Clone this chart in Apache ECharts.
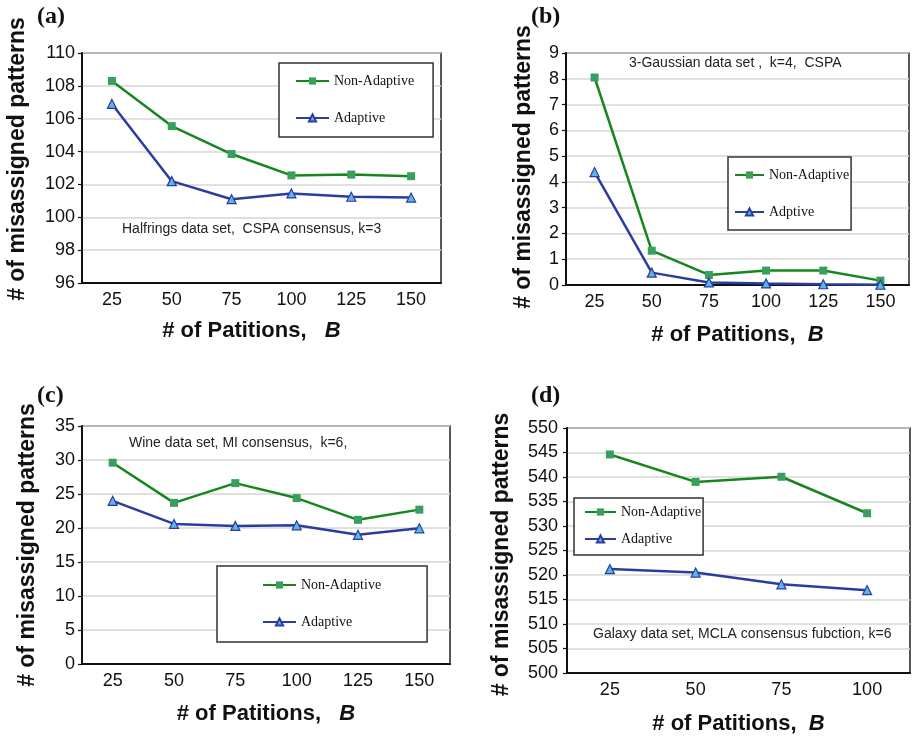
<!DOCTYPE html>
<html>
<head>
<meta charset="utf-8">
<script src="https://cdn.jsdelivr.net/npm/echarts@6/dist/echarts.min.js"></script>
<style>
  html, body { margin: 0; padding: 0; background: #fff; }
  #main { width: 912px; height: 736px; }
</style>
</head>
<body>
<div id="main"></div>
<script>
// categories (# of partitions)
var catsABC = ["25", "50", "75", "100", "125", "150"];
var catsD = ["25", "50", "75", "100"];

// (a) Halfrings
var nonAdaptiveA = [108.3, 105.55, 103.85, 102.55, 102.6, 102.5];
var adaptiveA = [106.9, 102.2, 101.1, 101.45, 101.25, 101.2];
// (b) 3-Gaussian
var nonAdaptiveB = [8.05, 1.33, 0.39, 0.56, 0.56, 0.17];
var adaptiveB = [4.38, 0.48, 0.1, 0.06, 0.03, 0.01];
// (c) Wine
var nonAdaptiveC = [29.6, 23.7, 26.6, 24.4, 21.2, 22.7];
var adaptiveC = [24.0, 20.6, 20.3, 20.4, 19.0, 19.95];
// (d) Galaxy
var nonAdaptiveD = [544.6, 539.0, 540.05, 532.6];
var adaptiveD = [521.2, 520.5, 518.1, 516.9];

var SANS = '"Liberation Sans", Arial, sans-serif';
var SERIF = '"Liberation Serif", "Times New Roman", serif';

var GREEN_LINE = "#17861f";
var GREEN_MARK = "#38a05c";
var BLUE_LINE = "#2b3c9f";
var BLUE_MARK = "#5bb6e6";

function xAxisOf(idx, cats, gap, spaces, pad) {
  return {
    type: "category",
    gridIndex: idx,
    data: cats,
    boundaryGap: true,
    axisLine: { lineStyle: { color: "#111", width: 2 } },
    axisTick: { inside: true, length: 5, lineStyle: { color: "#111", width: 1.2 } },
    axisLabel: { color: "#111", fontSize: 18, fontFamily: SANS, margin: 8 },
    name: "{a|# of Patitions," + spaces + "}{b|B}",
    nameLocation: "middle",
    nameGap: gap,
    nameTextStyle: {
      padding: pad,
      rich: {
        a: { fontSize: 22, fontWeight: "bold", fontFamily: SANS, color: "#111" },
        b: { fontSize: 22, fontWeight: "bold", fontStyle: "italic", fontFamily: SANS, color: "#111" },
      },
    },
  };
}

function yAxisOf(idx, min, max, interval, gap, margin, pad) {
  return {
    type: "value",
    gridIndex: idx,
    min: min,
    max: max,
    interval: interval,
    axisLine: { show: true, lineStyle: { color: "#111", width: 2 } },
    axisTick: { show: true, length: 4, lineStyle: { color: "#111", width: 1.2 } },
    axisLabel: { color: "#111", fontSize: 18, fontFamily: SANS, margin: margin },
    splitLine: { lineStyle: { color: "#d6d6d6", width: 1.5 } },
    name: "# of misassigned patterns",
    nameLocation: "middle",
    nameGap: gap,
    nameTextStyle: {
      fontSize: 23,
      fontWeight: "bold",
      fontFamily: SANS,
      color: "#111",
      padding: pad,
    },
  };
}

function lineOf(name, idx, data, square) {
  return {
    name: name,
    type: "line",
    xAxisIndex: idx,
    yAxisIndex: idx,
    data: data,
    symbol: square ? "rect" : "triangle",
    symbolSize: square ? 8 : 9,
    lineStyle: { color: square ? GREEN_LINE : BLUE_LINE, width: 2.5 },
    itemStyle: square
      ? { color: GREEN_MARK }
      : { color: BLUE_MARK, borderColor: BLUE_LINE, borderWidth: 1.2 },
    z: square ? 3 : 4,
  };
}

function legendOf(left, top, names, itemWidth, itemGap, pad) {
  return {
    data: names,
    orient: "vertical",
    left: left,
    top: top,
    itemWidth: itemWidth,
    itemHeight: 9,
    itemGap: itemGap,
    padding: pad,
    backgroundColor: "#fff",
    borderColor: "#333",
    borderWidth: 1.5,
    selectedMode: false,
    textStyle: { fontFamily: SERIF, fontSize: 14, color: "#111" },
  };
}

function note(x, y, text) {
  return {
    type: "text",
    x: x,
    y: y,
    z: 100,
    style: { text: text, font: "14px " + SANS, fill: "#222", align: "left", verticalAlign: "middle" },
  };
}

function panelLabel(x, y, text) {
  return {
    type: "text",
    x: x,
    y: y,
    style: { text: text, font: "bold 24px " + SERIF, fill: "#111", align: "left", verticalAlign: "middle" },
  };
}

var chart = echarts.init(document.getElementById("main"));
var option = {
  animation: false,
  backgroundColor: "#fff",
  grid: [
    { left: 82, top: 53, width: 359, height: 230, show: true, borderColor: "#222", borderWidth: 1.5 },
    { left: 566, top: 53, width: 343, height: 232, show: true, borderColor: "#222", borderWidth: 1.5 },
    { left: 82, top: 426, width: 368, height: 238, show: true, borderColor: "#222", borderWidth: 1.5 },
    { left: 567, top: 428, width: 343, height: 246, show: true, borderColor: "#222", borderWidth: 1.5 },
  ],
  xAxis: [
    xAxisOf(0, catsABC, 37, "   ", [0, 20, 0, 0]),
    xAxisOf(1, catsABC, 39, "  ", 0),
    xAxisOf(2, catsABC, 39, "   ", 0),
    xAxisOf(3, catsD, 40, "  ", 0),
  ],
  yAxis: [
    yAxisOf(0, 96, 110, 2, 53, 7, [0, 0, 0, 18]),
    yAxisOf(1, 0, 9, 1, 31, 7, [0, 0, 0, 4]),
    yAxisOf(2, 0, 35, 5, 43, 7, 0),
    yAxisOf(3, 500, 550, 5, 54, 9, [0, 8, 0, 0]),
  ],
  legend: [
    legendOf(279, 63, ["Non-Adaptive", "Adaptive"], 33, 23, [11, 19, 12, 16]),
    legendOf(728, 157, ["Non-Adaptive", "Adptive"], 29, 23, [11, 2, 11, 6]),
    legendOf(217, 566, ["Non-Adaptive", "Adaptive"], 33, 23, [12, 46, 13, 45]),
    legendOf(574, 498, ["Non-Adaptive", "Adaptive"], 31, 13, [7, 2, 9, 10]),
  ],
  graphic: [
    panelLabel(37, 17, "(a)"),
    panelLabel(531, 17, "(b)"),
    panelLabel(37, 396, "(c)"),
    panelLabel(531, 396, "(d)"),
    note(122, 229, "Halfrings data set,  CSPA consensus, k=3"),
    note(629, 63, "3-Gaussian data set ,  k=4,  CSPA"),
    note(129, 443, "Wine data set, MI consensus,  k=6,"),
    note(593, 634, "Galaxy data set, MCLA consensus fubction, k=6"),
  ],
  series: [
    lineOf("Non-Adaptive", 0, nonAdaptiveA, true),
    lineOf("Adaptive", 0, adaptiveA, false),
    lineOf("Non-Adaptive", 1, nonAdaptiveB, true),
    lineOf("Adptive", 1, adaptiveB, false),
    lineOf("Non-Adaptive", 2, nonAdaptiveC, true),
    lineOf("Adaptive", 2, adaptiveC, false),
    lineOf("Non-Adaptive", 3, nonAdaptiveD, true),
    lineOf("Adaptive", 3, adaptiveD, false),
  ],
};

option && chart.setOption(option);
</script>
</body>
</html>
